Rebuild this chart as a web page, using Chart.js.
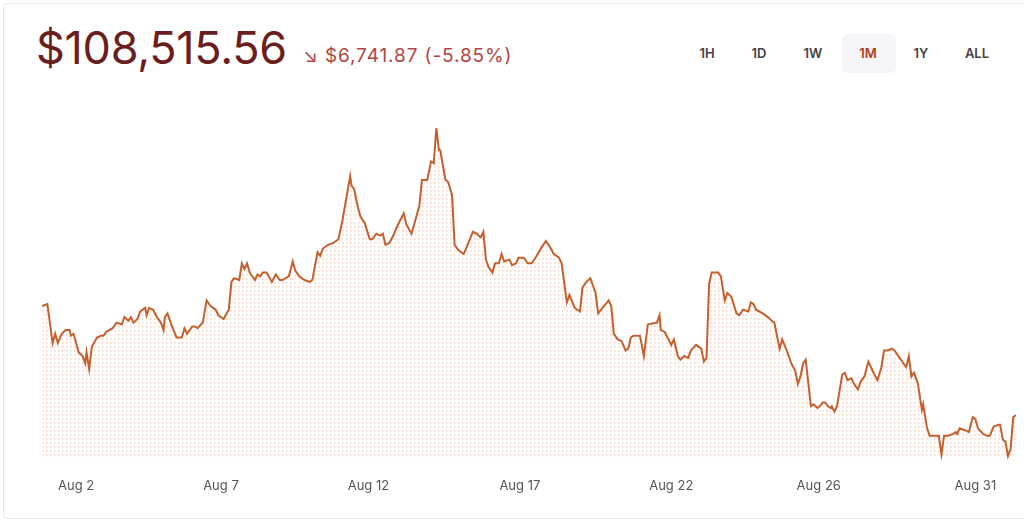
<!DOCTYPE html>
<html><head><meta charset="utf-8">
<script src="https://cdn.jsdelivr.net/npm/chart.js@4"></script>
<style>
body{margin:0;width:1024px;height:524px;background:#fff;font-family:Inter,"Noto Sans",sans-serif;overflow:hidden;position:relative}
#card{position:absolute;left:3px;top:3px;width:1030px;height:516px;border:1px solid #e6e6e6;border-radius:4px;box-sizing:border-box}
#price{position:absolute;left:36px;top:20px;font-size:45px;color:#6b1e1e;letter-spacing:-0.3px;font-weight:400}
#chg{position:absolute;left:303px;top:44px;font-size:19px;color:#b4443f;letter-spacing:0.9px}
.btn{position:absolute;top:45px;font-size:13px;font-weight:600;color:#444;transform:translateX(-50%)}
#hl{position:absolute;left:842px;top:34px;width:54px;height:39px;background:#f5f5fa;border-radius:6px}
#wrap{position:absolute;left:38px;top:118px;width:978px;height:396px}
</style></head><body>
<div id="card"></div>
<div id="price">$108,515.56</div>
<div id="chg">↘ $6,741.87 (-5.85%)</div>
<div id="hl"></div>
<div class="btn" style="left:707px">1H</div>
<div class="btn" style="left:759px">1D</div>
<div class="btn" style="left:813px">1W</div>
<div class="btn" style="left:868px;color:#b23a1e">1M</div>
<div class="btn" style="left:921px">1Y</div>
<div class="btn" style="left:977px">ALL</div>
<div id="wrap"><canvas id="c"></canvas></div>
<script>
const hours=[0,4,8,10,12,15,18,21,22,24,28,31,33,34,36,38,42,45,47,49,54,57,61,63,66,68,70,73,75,79,80,82,85,88,91,93,94,96,99,103,107,109,111,115,117,119,123,126,129,133,135,139,143,145,147,151,153,155,157,159,163,165,167,169,172,176,179,182,184,189,192,194,197,201,205,207,211,213,215,219,223,227,230,236,237,239,242,244,247,251,253,256,259,261,263,266,269,272,277,279,283,289,291,295,298,300,302,304,305,309,311,314,316,319,323,330,333,336,338,340,342,345,347,350,352,354,358,360,363,365,369,372,375,378,383,386,389,392,396,398,402,404,408,412,414,417,420,424,426,434,436,438,441,444,447,449,451,453,458,461,464,470,471,473,474,477,482,484,487,489,492,495,497,501,505,507,509,511,513,518,520,523,525,528,532,534,537,541,543,545,547,552,556,559,561,565,567,571,574,577,579,581,583,585,589,591,594,596,598,600,602,604,605,607,609,613,615,617,620,622,625,627,630,633,637,640,643,645,648,651,653,658,661,662,664,666,668,671,674,675,678,680,684,687,689,691,694,698,700,701,703,707,710,713,715,717,721,724,726,729,733,734,736,738,740,742,744,746];
const prices=[114.4,114.5,112.4,112.9,112.4,112.9,113.1,113.1,112.8,112.9,111.9,111.7,111.3,111.9,111.0,112.2,112.7,112.8,112.8,113.0,113.2,113.5,113.4,113.8,113.6,113.8,113.5,113.7,114.1,114.3,113.9,114.3,114.2,113.8,113.5,113.1,113.8,114.0,113.4,112.7,112.7,113.2,112.9,113.3,113.3,113.2,113.5,114.7,114.4,114.2,113.9,113.7,114.2,115.7,115.9,115.8,116.7,116.4,116.7,116.2,115.8,116.1,116.0,116.2,116.2,115.7,116.1,115.8,115.8,116.0,116.8,116.3,116.0,115.8,115.7,115.8,117.3,117.1,117.5,117.7,117.8,118.0,119.0,121.4,120.9,120.7,119.7,119.2,118.9,118.0,118.0,118.3,118.2,118.3,117.7,117.8,118.2,118.7,119.4,118.8,118.3,119.8,121.2,121.2,122.2,122.1,124.0,122.8,122.8,121.2,121.1,120.4,117.7,117.4,117.2,118.4,118.3,118.1,118.4,116.9,116.5,116.2,116.7,116.7,117.2,116.8,116.9,116.6,116.7,117.0,117.0,116.7,116.7,117.0,117.6,117.9,117.6,117.2,117.0,116.7,114.6,115.0,114.3,114.1,115.4,115.7,115.9,115.1,114.0,114.7,114.4,112.9,112.6,112.5,112.0,112.1,112.7,112.8,112.8,111.7,113.4,113.5,113.5,113.9,113.1,113.0,112.3,112.6,111.7,111.5,111.7,111.6,112.0,112.3,112.1,111.4,111.6,115.6,116.2,116.2,116.0,114.7,115.1,114.9,114.0,113.9,114.2,114.1,114.6,114.5,114.2,114.0,113.8,113.6,113.5,112.1,112.6,111.9,111.3,110.9,110.2,110.6,111.3,111.5,109.0,109.1,108.9,109.0,109.2,109.2,109.0,108.9,109.0,108.7,109.0,110.7,110.8,110.4,110.5,110.2,109.9,110.3,110.6,111.4,110.8,110.4,111.1,112.0,112.0,112.1,112.0,111.5,111.2,111.1,111.7,110.6,110.8,110.2,108.8,109.1,107.8,107.4,107.4,107.4,106.4,107.4,107.4,107.5,107.6,107.5,107.8,107.7,107.6,108.4,108.3,107.8,107.5,107.4,107.4,107.9,108.0,108.0,107.2,107.1,106.3,106.7,108.4,108.516];
const tickHours=[26,137,250,366,482,595,715];
const tickLabels=["Aug 2","Aug 7","Aug 12","Aug 17","Aug 22","Aug 26","Aug 31"];
const pts=hours.map((h,i)=>({x:h,y:prices[i]}));
const pc=document.createElement('canvas');pc.width=4;pc.height=4;
const px=pc.getContext('2d');px.fillStyle='rgba(232,150,115,0.45)';px.fillRect(0,0,1.5,1.5);
const pattern=document.getElementById('c').getContext('2d').createPattern(pc,'repeat');
new Chart(document.getElementById('c'),{
 type:'line',
 data:{datasets:[{data:pts,borderColor:'#c4602e',borderWidth:2,pointRadius:0,fill:'start',backgroundColor:pattern,tension:0,clip:false}]},
 options:{responsive:true,maintainAspectRatio:false,animation:false,
  layout:{padding:{top:10,left:0,right:0,bottom:0}},
  plugins:{legend:{display:false},tooltip:{enabled:false}},
  scales:{
   x:{type:'linear',min:0,max:746,grid:{display:false,drawTicks:false},border:{display:false},
      afterBuildTicks:s=>{s.ticks=tickHours.map(v=>({value:v}));},
      ticks:{autoSkip:false,maxRotation:0,padding:20,color:'#555',font:{family:'Inter',size:13},
        callback:(v)=>{const i=tickHours.indexOf(v);return i>=0?tickLabels[i]:'';}}},
   y:{display:false,min:106.18,max:124.0}
  }}
});
</script></body></html>
